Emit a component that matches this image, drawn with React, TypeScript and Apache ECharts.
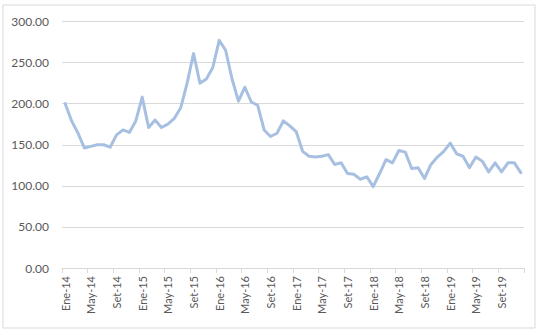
import React, { useEffect, useRef } from "react";
import * as echarts from "echarts";

// Monthly series, January 2014 – December 2019 (Spanish month abbreviations)
const monthNames = ["Ene", "Feb", "Mar", "Abr", "May", "Jun", "Jul", "Ago", "Set", "Oct", "Nov", "Dic"];
const years = ["14", "15", "16", "17", "18", "19"];
const categories: string[] = years.flatMap((y) => monthNames.map((m) => `${m}-${y}`));

const values: number[] = [
  // 2014
  200, 179, 164, 146, 148, 150, 150, 147, 162, 168, 165, 179,
  // 2015
  208, 171, 180, 171, 175, 182, 195, 225, 261, 225, 230, 244,
  // 2016
  277, 265, 230, 203, 220, 202, 198, 168, 160, 164, 179, 173,
  // 2017
  166, 142, 136, 135, 136, 138, 126, 128, 115, 114, 108, 111,
  // 2018
  99, 115, 132, 128, 143, 141, 121, 122, 109, 126, 135, 142,
  // 2019
  152, 139, 136, 122, 135, 130, 117, 128, 117, 128, 128, 116,
];

const yTicks = { min: 0, max: 300, interval: 50 };

export default function App() {
  const ref = useRef<HTMLDivElement>(null);

  useEffect(() => {
    if (!ref.current) return;
    const chart = echarts.init(ref.current, undefined, { renderer: "svg" });
    const font = "Lato, 'Open Sans', sans-serif";
    chart.setOption({
      animation: false,
      backgroundColor: "#ffffff",
      textStyle: { fontFamily: font },
      graphic: [
        {
          type: "rect",
          shape: { x: 3, y: 5, width: 532, height: 323 },
          style: { fill: "none", stroke: "#d9d9d9", lineWidth: 1 },
          silent: true,
        },
      ],
      grid: { left: 62, right: 19, top: 21.5, bottom: 64, containLabel: false },
      xAxis: {
        type: "category",
        data: categories,
        boundaryGap: true,
        axisLine: { lineStyle: { color: "#d9d9d9", width: 1 } },
        axisTick: { show: true, interval: 3, length: 5, lineStyle: { color: "#d9d9d9" } },
        axisLabel: {
          interval: 3,
          rotate: 90,
          margin: 8,
          color: "#595959",
          fontSize: 11,
          fontFamily: font,
        },
        splitLine: { show: false },
      },
      yAxis: {
        type: "value",
        min: yTicks.min,
        max: yTicks.max,
        interval: yTicks.interval,
        axisLine: { show: false },
        axisTick: { show: false },
        axisLabel: {
          margin: 13,
          color: "#595959",
          fontSize: 12,
          fontFamily: font,
          formatter: (v: number) => v.toFixed(2),
        },
        splitLine: { lineStyle: { color: "#d9d9d9", width: 1 } },
      },
      series: [
        {
          type: "line",
          data: values,
          symbol: "none",
          smooth: false,
          lineStyle: { color: "#a7c0e2", width: 3, join: "round", cap: "round" },
        },
      ],
    });
    return () => chart.dispose();
  }, []);

  return (
    <div
      ref={ref}
      style={{ position: "fixed", left: 0, top: 0, width: 543, height: 332 }}
    />
  );
}
